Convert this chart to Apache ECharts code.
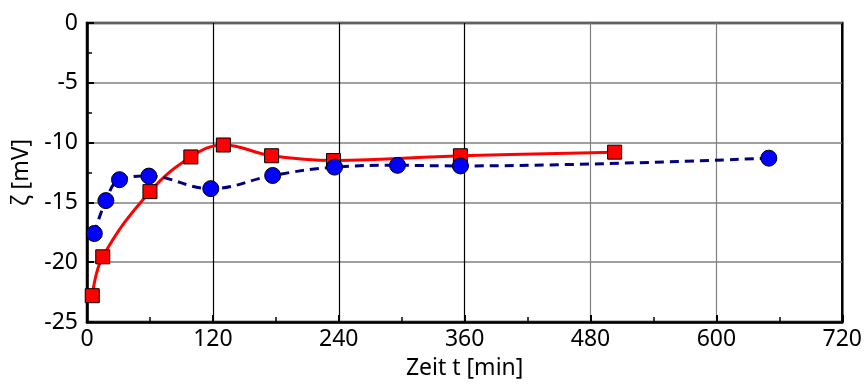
<!DOCTYPE html>
<html><head><meta charset="utf-8">
<script src="https://cdn.jsdelivr.net/npm/echarts@6/dist/echarts.min.js"></script>
<style>html,body{margin:0;padding:0;background:#fff}#c{width:865px;height:385px}</style>
</head><body><div id="c"></div>
<script>
const redT = [5, 15, 60, 99, 130, 176, 235, 356, 503];
const redV = [-22.8, -19.55, -14.1, -11.2, -10.2, -11.1, -11.5, -11.1, -10.8];
const blueT = [7, 18, 31, 59, 118, 177, 236, 296, 356, 650];
const blueV = [-17.6, -14.85, -13.1, -12.8, -13.85, -12.75, -12.05, -11.9, -11.95, -11.3];
const xTicks = [0, 120, 240, 360, 480, 600, 720];
const yTicks = [-25, -20, -15, -10, -5, 0];

const font = '"Noto Sans", "Open Sans", sans-serif';
const chart = echarts.init(document.getElementById('c'));
chart.setOption({
  animation: false,
  grid: {left: 87, top: 23, right: 22, bottom: 60, show: true, borderColor: '#000', borderWidth: 2.5},
  xAxis: {
    type: 'value', min: xTicks[0], max: xTicks[xTicks.length - 1], interval: 120,
    name: 'Zeit t [min]', nameLocation: 'middle', nameGap: 35,
    nameTextStyle: {fontFamily: font, fontSize: 23, color: '#000'},
    axisLine: {show: true, onZero: false, lineStyle: {color: '#000', width: 2.5}},
    axisTick: {show: true, inside: true, length: 7, lineStyle: {color: '#000', width: 2}},
    minorTick: {show: true, splitNumber: 2, length: 5, lineStyle: {color: '#000', width: 1.5}},
    axisLabel: {fontFamily: font, fontSize: 23, color: '#000', margin: 6},
    splitLine: {show: true, lineStyle: {color: ['#000', '#000', '#000', '#000', '#808080', '#808080', '#000'], width: 1.2}}
  },
  yAxis: {
    type: 'value', min: yTicks[0], max: yTicks[yTicks.length - 1], interval: 5,
    name: 'ζ [mV]', nameLocation: 'middle', nameGap: 53, nameRotate: 90,
    nameTextStyle: {fontFamily: font, fontSize: 23, color: '#000'},
    axisLine: {show: true, onZero: false, lineStyle: {color: '#000', width: 2.5}},
    axisTick: {show: true, inside: true, length: 7, lineStyle: {color: '#000', width: 2}},
    minorTick: {show: true, splitNumber: 2, length: 5, lineStyle: {color: '#000', width: 1.5}},
    axisLabel: {fontFamily: font, fontSize: 23, color: '#000', margin: 9},
    splitLine: {show: true, lineStyle: {color: '#808080', width: 1.5}}
  },
  series: [
    {
      type: 'line', data: redT.map((t, i) => [t, redV[i]]), smooth: 0.4,
      symbol: 'rect', symbolSize: 14, z: 3,
      lineStyle: {color: '#ff0000', width: 3},
      itemStyle: {color: '#ff0000', borderColor: '#000', borderWidth: 1}
    },
    {
      type: 'line', data: blueT.map((t, i) => [t, blueV[i]]), smooth: 0.4,
      symbol: 'circle', symbolSize: 16, z: 4,
      lineStyle: {color: '#000080', width: 3, type: [9, 6]},
      itemStyle: {color: '#0000ff', borderColor: '#000', borderWidth: 1}
    }
  ]
});
</script></body></html>
